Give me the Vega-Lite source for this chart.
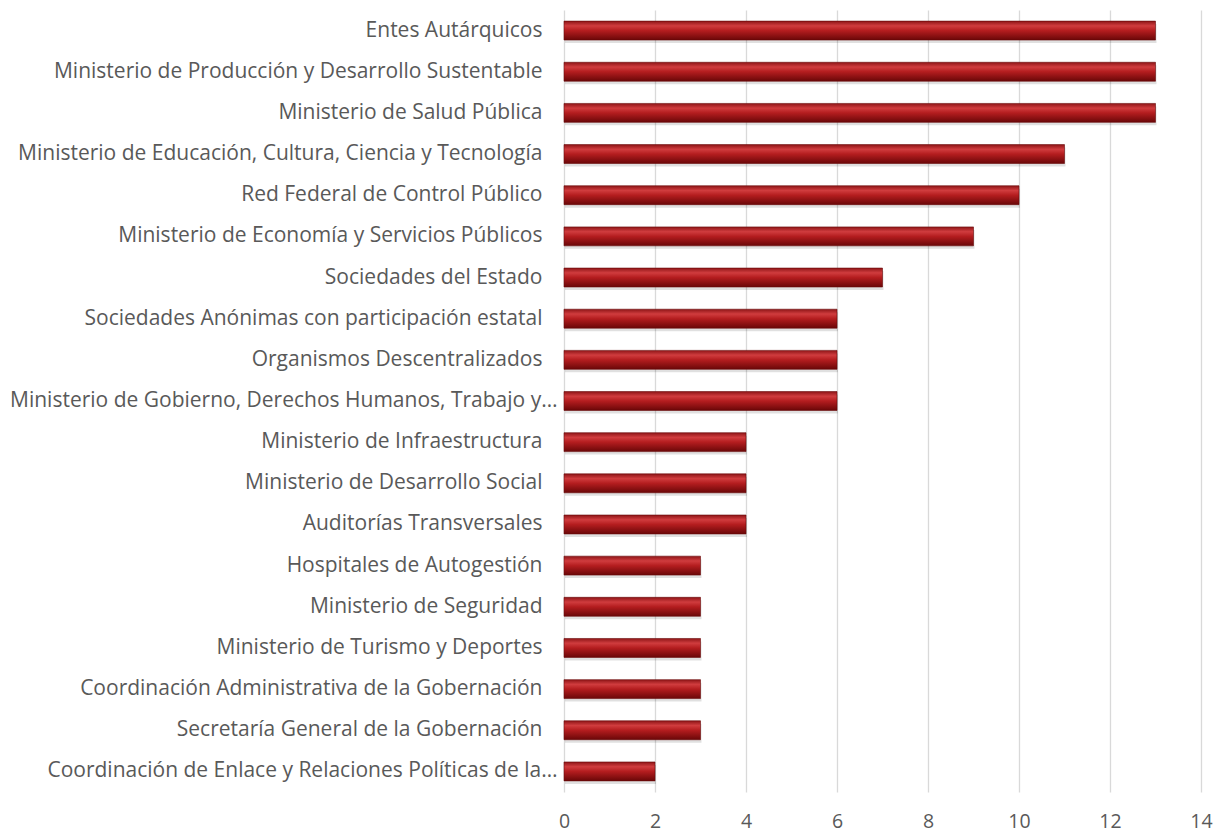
{
  "$schema": "https://vega.github.io/schema/vega-lite/v6.json",
  "width": 637,
  "height": 782,
  "autosize": {"type": "none"},
  "padding": {"left": 564, "top": 10, "right": 19, "bottom": 41},
  "background": "white",
  "data": {
    "values": [
      {"cat": "Entes Autárquicos", "v": 13},
      {"cat": "Ministerio de Producción y Desarrollo Sustentable", "v": 13},
      {"cat": "Ministerio de Salud Pública", "v": 13},
      {"cat": "Ministerio de Educación, Cultura, Ciencia y Tecnología", "v": 11},
      {"cat": "Red Federal de Control Público", "v": 10},
      {"cat": "Ministerio de Economía y Servicios Públicos", "v": 9},
      {"cat": "Sociedades del Estado", "v": 7},
      {"cat": "Sociedades Anónimas con participación estatal", "v": 6},
      {"cat": "Organismos Descentralizados", "v": 6},
      {"cat": "Ministerio de Gobierno, Derechos Humanos, Trabajo y…", "v": 6},
      {"cat": "Ministerio de Infraestructura", "v": 4},
      {"cat": "Ministerio de Desarrollo Social", "v": 4},
      {"cat": "Auditorías Transversales", "v": 4},
      {"cat": "Hospitales de Autogestión", "v": 3},
      {"cat": "Ministerio de Seguridad", "v": 3},
      {"cat": "Ministerio de Turismo y Deportes", "v": 3},
      {"cat": "Coordinación Administrativa de la Gobernación", "v": 3},
      {"cat": "Secretaría General de la Gobernación", "v": 3},
      {"cat": "Coordinación de Enlace y Relaciones Políticas de la…", "v": 2}
    ]
  },
  "config": {
    "view": {"stroke": null},
    "font": "Open Sans",
    "axis": {"labelFont": "Open Sans", "labelColor": "#595959", "labelFontSize": 19.5, "domain": false, "ticks": false}
  },
  "encoding": {
    "y": {
      "field": "cat", "type": "nominal", "sort": null, "title": null,
      "scale": {"paddingInner": 0.54, "paddingOuter": 0.27},
      "axis": {
        "labelLimit": 700,
        "labelFontSize": 21,
        "grid": false,
        "labelPadding": {"condition": {"test": "indexof(datum.label, '…') >= 0", "value": 7}, "value": 22}
      }
    },
    "x": {
      "field": "v", "type": "quantitative", "title": null,
      "scale": {"domain": [0, 14], "nice": false},
      "axis": {"values": [0, 2, 4, 6, 8, 10, 12, 14], "grid": true, "gridColor": "#d9d9d9", "gridWidth": 1.3, "labelPadding": 20, "labelFlush": false}
    }
  },
  "layer": [
    {
      "mark": {"type": "bar", "color": "#000000", "opacity": 0.12, "yOffset": 3, "xOffset": 1}
    },
    {
      "mark": {
        "type": "bar",
        "color": {
          "gradient": "linear", "x1": 0, "y1": 0, "x2": 0, "y2": 1,
          "stops": [
            {"offset": 0, "color": "#8e1517"},
            {"offset": 0.25, "color": "#d03c3e"},
            {"offset": 0.5, "color": "#b41d1f"},
            {"offset": 1, "color": "#6a0708"}
          ]
        },
        "stroke": "#6a0a0a",
        "strokeWidth": 0.6
      }
    }
  ]
}
